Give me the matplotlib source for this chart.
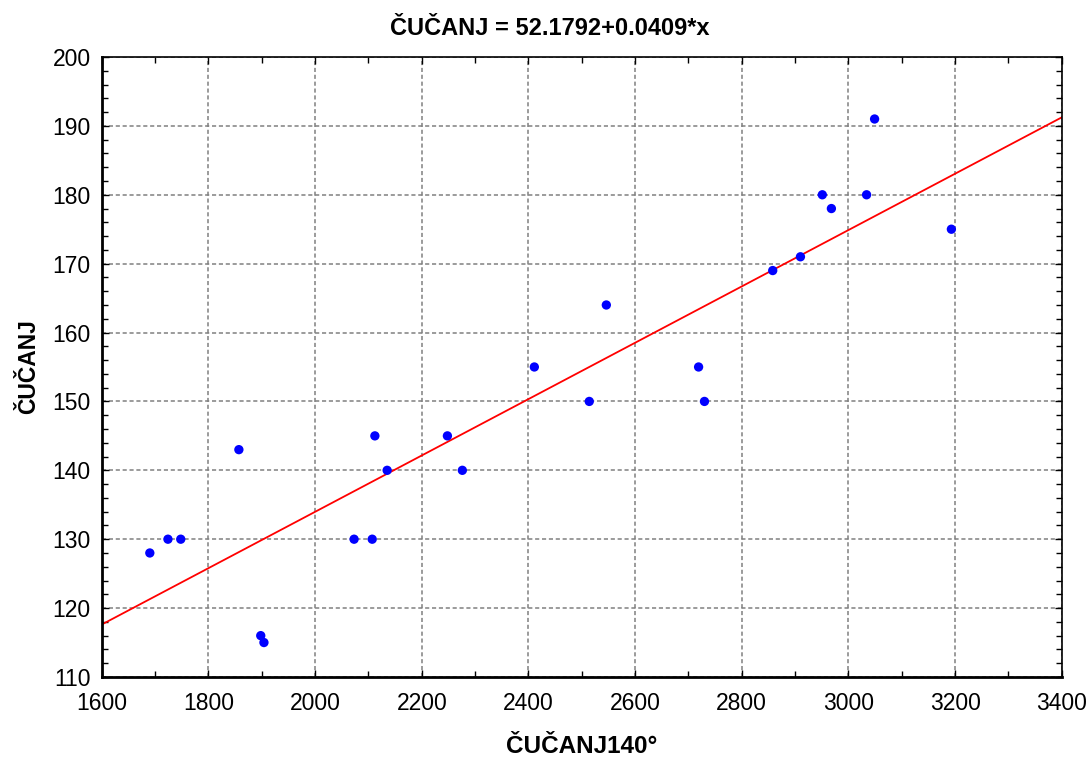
import matplotlib
matplotlib.use("Agg")
import matplotlib.pyplot as plt
import numpy as np
from matplotlib.ticker import MultipleLocator

x_vals = [1690, 1724, 1748, 1857, 1898, 1904, 2073, 2107, 2112, 2135, 2248, 2276,
          2411, 2514, 2546, 2719, 2730, 2858, 2910, 2951, 2968, 3034, 3049, 3193]
y_vals = [128, 130, 130, 143, 116, 115, 130, 130, 145, 140, 145, 140,
          155, 150, 164, 155, 150, 169, 171, 180, 178, 180, 191, 175]
intercept = 52.1792
slope = 0.0409
title = "ČUČANJ = 52.1792+0.0409*x"
xlabel = "ČUČANJ140°"
ylabel = "ČUČANJ"

plt.rcParams['font.family'] = ['Liberation Sans', 'DejaVu Sans']

fig = plt.figure(figsize=(10.89, 7.58), dpi=100)
ax = fig.add_axes([0.0935, 0.1069, 0.8815, 0.8179])

xl = np.array([1600, 3400])
ax.plot(xl, intercept + slope * xl, color='red', lw=1.3, zorder=2)
ax.scatter(x_vals, y_vals, s=45, color='blue', zorder=3, edgecolors='none')

ax.set_xlim(1600, 3400)
ax.set_ylim(110, 200)
ax.xaxis.set_major_locator(MultipleLocator(200))
ax.xaxis.set_minor_locator(MultipleLocator(100))
ax.yaxis.set_major_locator(MultipleLocator(10))
ax.yaxis.set_minor_locator(MultipleLocator(2))
ax.grid(True, which='major', color='gray', linestyle=(0, (2.7, 1.8)), lw=1.1)
ax.tick_params(which='both', direction='in', top=True, right=True, labelsize=16.5)
ax.tick_params(axis='x', which='both', pad=11)
ax.tick_params(axis='y', which='both', pad=8)
ax.tick_params(which='major', length=5, width=1)
ax.tick_params(which='minor', length=4, width=1)
for s in ['left', 'bottom']:
    ax.spines[s].set_linewidth(2)
for s in ['top', 'right']:
    ax.spines[s].set_linewidth(1.2)

ax.set_title(title, fontsize=17, fontweight='bold', pad=15.5, x=0.467)
ax.set_xlabel(xlabel, fontsize=17.5, fontweight='bold', labelpad=14)
ax.set_ylabel(ylabel, fontsize=16.5, fontweight='bold', labelpad=9)

fig.savefig('out.png', dpi=100)
